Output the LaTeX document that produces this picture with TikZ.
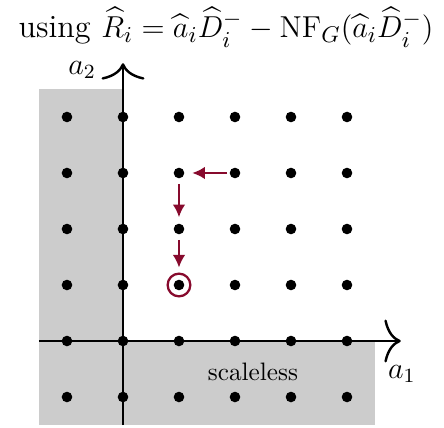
\documentclass[tikz,border=0pt]{standalone}
\usepackage{amsmath}
\usepackage{amssymb}
\usetikzlibrary{arrows.meta}
\definecolor{darkred}{RGB}{135,10,45}

\begin{document}
\begin{tikzpicture}[x=0.78cm, y=0.78cm, >=Latex, every node/.style={font=\normalsize}]
    \tikzstyle{dot}=[circle, fill=black, inner sep=0pt, minimum size=4.2pt]
    \tikzstyle{axis}=[line width=0.95pt, -{Computer Modern Rightarrow[length=6.5pt, width=17pt, line width=0.95pt]}]
    \tikzstyle{move}=[darkred, line width=0.75pt, -{Latex[length=5pt, width=5pt]}]

    \useasboundingbox (-2.196,-1.536) rectangle (5.732,6.089);

    % scaleless region
    \fill[black!20] (-1.5,4.5) rectangle (0,-1.5);
    \fill[black!20] (0,0) rectangle (4.5,-1.5);

    \node (title) at (1.84,5.6) {\fontsize{12.8}{15}\selectfont using $\widehat{R}_i = \widehat{a}_i\widehat{D}^-_i - \mathrm{NF}_G(\widehat{a}_i\widehat{D}^-_i)$};

    % axes
    \coordinate (xstart) at (-1.5,0);
    \coordinate (xend) at (4.96,0);
    \coordinate (ystart) at (0,-1.5);
    \coordinate (yend) at (0,4.96);
    \draw[axis] (xstart) -- (xend);
    \draw[axis] (ystart) -- (yend);
    \node[font=\fontsize{11.5}{14}\selectfont] (a1) at (4.98,-0.59) {$a_1$};
    \node[font=\fontsize{11.5}{14}\selectfont] (a2) at (-0.73,4.84) {$a_2$};
    \node (scaleless) at (2.32,-0.55) {scaleless};

    % lattice points
    \foreach \i in {-1,...,4}
        \foreach \j in {-1,...,4}
            \node[dot] (d\i\j) at (\i,\j) {};

    % reduction steps
    \node[draw=darkred, circle, line width=0.9pt, minimum size=9pt, inner sep=0pt] (target) at (d11) {};
    \draw[move, shorten <=0.8pt, shorten >=3pt] (d23) -- (d13);
    \draw[move, shorten <=2pt, shorten >=2.4pt] (d13) -- (d12);
    \draw[move, shorten <=2pt, shorten >=2pt] (d12) -- (target);
\end{tikzpicture}
\end{document}
